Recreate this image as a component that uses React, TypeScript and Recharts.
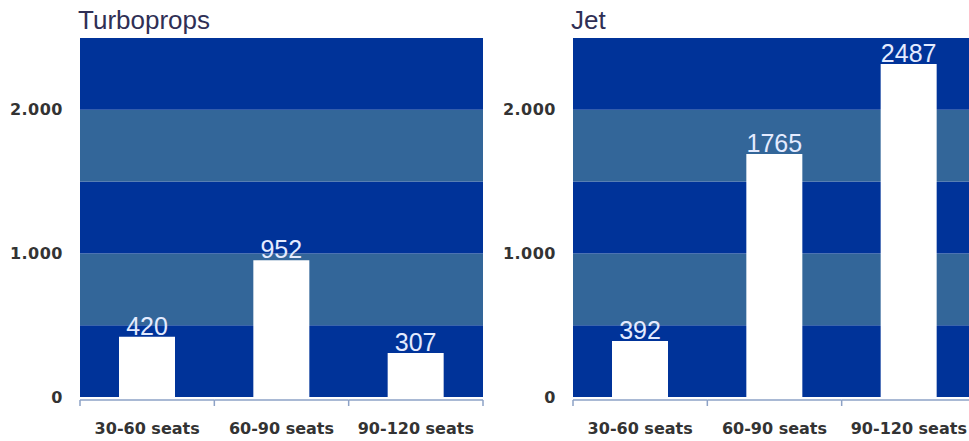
import React from 'react'
import { BarChart, Bar, XAxis, YAxis, ReferenceArea, LabelList } from 'recharts'

const seats = ['30-60 seats', '60-90 seats', '90-120 seats']
// printed labels
const turbopropLabels = [420, 952, 307]
const jetLabels = [392, 1765, 2487]
// bar heights as drawn in the picture (the jet bars sit lower than their labels)
const turbopropBars = [420, 952, 307]
const jetBars = [390, 1692, 2319]
const bandEdges = [0, 500, 1000, 1500, 2000, 2500]
const yTicks = [0, 1000, 2000]

const DARK = '#003399'
const STEEL = '#336699'
const AXIS_LINE = '#8da2c6'
const AXIS_FONT = '"DejaVu Sans", Verdana, sans-serif'

const fmt = (v: number) => (v === 0 ? '0' : `${v / 1000}.000`)

// category tick: axis segment + tick marks on the band edges + label
const SeatTick = (props: any) => {
  const { x, y, payload, width, visibleTicksCount, index } = props
  const band = width && visibleTicksCount ? width / visibleTicksCount : 0
  const left = x - band / 2
  const ly = y + 3
  return (
    <g>
      {band > 0 && (
        <>
          <line x1={left} x2={left + band} y1={ly} y2={ly} stroke={AXIS_LINE} strokeWidth={1.5} />
          <line x1={left} x2={left} y1={ly} y2={ly + 6} stroke={AXIS_LINE} strokeWidth={1.5} />
          {index === visibleTicksCount - 1 && (
            <line x1={left + band} x2={left + band} y1={ly} y2={ly + 6} stroke={AXIS_LINE} strokeWidth={1.5} />
          )}
        </>
      )}
      <text
        x={x}
        y={y + 26}
        dy="0.71em"
        textAnchor="middle"
        fill="#333"
        fontSize={16}
        fontWeight={700}
        fontFamily={AXIS_FONT}
      >
        {payload.value}
      </text>
    </g>
  )
}

function Panel({ title, bars, labels, left }: { title: string; bars: number[]; labels: number[]; left: number }) {
  const data = seats.map((s, i) => ({ name: s, value: bars[i], label: labels[i] }))
  return (
    <div style={{ position: 'absolute', left, top: 0, width: 490, height: 441 }}>
      <div
        style={{
          position: 'absolute',
          left: 78,
          top: 7,
          fontFamily: '"Liberation Sans", Arial, sans-serif',
          fontSize: 26,
          lineHeight: '26px',
          color: '#2f2f55',
          whiteSpace: 'nowrap',
        }}
      >
        {title}
      </div>
      <BarChart width={490} height={441} data={data} margin={{ top: 38, right: 7, bottom: 14, left: 0 }}>
        {bandEdges.slice(0, -1).map((b, i) => (
          <ReferenceArea
            key={b}
            y1={b}
            y2={bandEdges[i + 1]}
            fill={i % 2 === 0 ? DARK : STEEL}
            fillOpacity={1}
            stroke="none"
            ifOverflow="visible"
          />
        ))}
        <XAxis
          dataKey="name"
          height={30}
          axisLine={false}
          tickLine={false}
          tickSize={0}
          tickMargin={0}
          interval={0}
          tick={<SeatTick />}
        />
        <YAxis
          width={80}
          domain={[0, 2500]}
          ticks={yTicks}
          tickFormatter={fmt}
          axisLine={false}
          tickLine={false}
          tickSize={0}
          tickMargin={17}
          tick={{ fill: '#333', fontSize: 16, fontWeight: 700, letterSpacing: 0.5, fontFamily: AXIS_FONT }}
        />
        <Bar dataKey="value" fill="#ffffff" barSize={56} isAnimationActive={false}>
          <LabelList
            dataKey="label"
            position="top"
            offset={2}
            fill="#e4ebff"
            fontSize={25}
            fontFamily='"Liberation Sans", Arial, sans-serif'
          />
        </Bar>
      </BarChart>
    </div>
  )
}

export default function App() {
  return (
    <div style={{ position: 'absolute', left: 0, top: 0, width: 969, height: 441, overflow: 'hidden', background: '#fff' }}>
      <Panel title="Turboprops" bars={turbopropBars} labels={turbopropLabels} left={0} />
      <Panel title="Jet" bars={jetBars} labels={jetLabels} left={493} />
    </div>
  )
}
